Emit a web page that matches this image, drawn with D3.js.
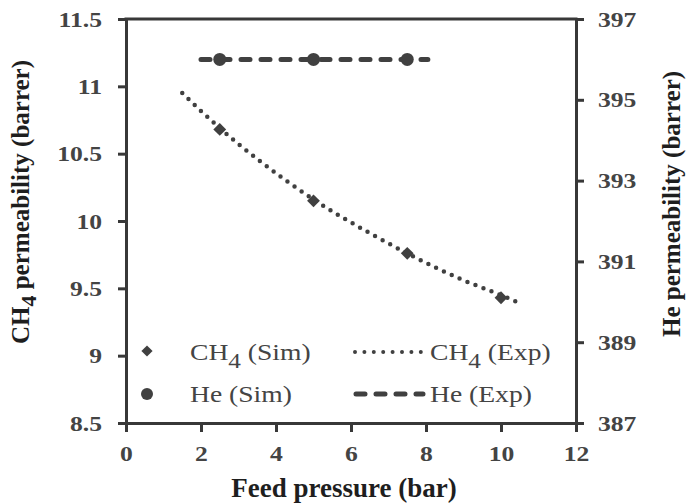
<!DOCTYPE html>
<html>
<head>
<meta charset="utf-8">
<script src="https://cdn.jsdelivr.net/npm/d3@7"></script>
<style>
  html, body { margin: 0; padding: 0; background: #fff; }
  svg { display: block; }
  text { font-family: "Liberation Serif", "Times New Roman", serif; }
</style>
</head>
<body>
<script>
// ---------- data ----------
const xTicks = [0, 2, 4, 6, 8, 10, 12];
const leftTicks = [8.5, 9, 9.5, 10, 10.5, 11, 11.5];
const rightTicks = [387, 389, 391, 393, 395, 397];

const ch4SimX = [2.5, 5, 7.5, 10];
const ch4SimY = [10.68, 10.15, 9.76, 9.43];

const ch4ExpX = [1.5, 2.5, 3.5, 5, 6.5, 7.5, 9, 10, 10.5];
const ch4ExpY = [10.95, 10.69, 10.46, 10.16, 9.91, 9.76, 9.56, 9.45, 9.39];

const heSimX = [2.5, 5, 7.5];
const heSimY = [396, 396, 396];

const heExpX = [2, 4, 6, 8.05];
const heExpY = [396, 396, 396, 396];

// ---------- setup ----------
const W = 686, H = 504;
const svg = d3.select("body").append("svg").attr("width", W).attr("height", H);

const x = d3.scaleLinear().domain([0, 12]).range([126, 576]);
const yL = d3.scaleLinear().domain([8.5, 11.5]).range([423, 19]);
const yR = d3.scaleLinear().domain([387, 397]).range([423, 19]);

const axisCol = "#383838";
const markCol = "#404040";
const labCol = "#444";
const SX = 1.22; // horizontal glyph stretch of the reference

// ---------- axes ----------
const gL = svg.append("g").attr("transform", `translate(${x(0)},0)`)
  .call(d3.axisLeft(yL).tickValues(leftTicks).tickSize(8).tickSizeOuter(0)
        .tickFormat(d => d3.format("")(d)));
const gR = svg.append("g").attr("transform", `translate(${x(12)},0)`)
  .call(d3.axisRight(yR).tickValues(rightTicks).tickSize(8).tickSizeOuter(0));
const gB = svg.append("g").attr("transform", `translate(0,${yL(8.5)})`)
  .call(d3.axisBottom(x).tickValues(xTicks).tickSize(9).tickSizeOuter(0));

[gL, gR, gB].forEach(g => {
  g.attr("font-family", null);
  g.select(".domain").attr("stroke", axisCol).attr("stroke-width", 3);
  g.selectAll(".tick line").attr("stroke", axisCol).attr("stroke-width", 3);
  g.selectAll(".tick text")
    .attr("fill", labCol)
    .attr("font-size", 21)
    .attr("font-weight", "bold");
});
gL.selectAll(".tick text").attr("x", -24 / SX).attr("dy", "0.34em")
  .attr("transform", `scale(${SX},1)`);
gR.selectAll(".tick text").attr("x", 22 / SX).attr("dy", "0.34em")
  .attr("transform", `scale(${SX},1)`);
gB.selectAll(".tick text").attr("y", 0).attr("dy", 0)
  .attr("transform", `translate(0,38) scale(${SX},1)`);

// top frame line
svg.append("line")
  .attr("x1", x(0) - 1.5).attr("x2", x(12) + 1.5)
  .attr("y1", yL(11.5)).attr("y2", yL(11.5))
  .attr("stroke", axisCol).attr("stroke-width", 3);

// ---------- series ----------
const ch4Exp = ch4ExpX.map((v, i) => [v, ch4ExpY[i]]);
svg.append("path")
  .attr("d", d3.line().x(d => x(d[0])).y(d => yL(d[1])).curve(d3.curveMonotoneX)(ch4Exp))
  .attr("fill", "none").attr("stroke", markCol).attr("stroke-width", 4.5)
  .attr("stroke-linecap", "round").attr("stroke-dasharray", "0 8.6");

const heExp = heExpX.map((v, i) => [v, heExpY[i]]);
svg.append("path")
  .attr("d", d3.line().x(d => x(d[0])).y(d => yR(d[1]))(heExp))
  .attr("fill", "none").attr("stroke", markCol).attr("stroke-width", 5)
  .attr("stroke-linecap", "round").attr("stroke-dasharray", "9 11");

const diamond = d3.symbol().type(d3.symbolDiamond2).size(105);
svg.append("g").selectAll("path")
  .data(ch4SimX.map((v, i) => [v, ch4SimY[i]]))
  .join("path")
  .attr("transform", d => `translate(${x(d[0])},${yL(d[1])})`)
  .attr("d", diamond)
  .attr("fill", markCol);

svg.append("g").selectAll("circle")
  .data(heSimX.map((v, i) => [v, heSimY[i]]))
  .join("circle")
  .attr("cx", d => x(d[0])).attr("cy", d => yR(d[1]))
  .attr("r", 6.5).attr("fill", markCol);

// ---------- legend ----------
function legendText(px, py, main, sub, rest) {
  const t = svg.append("text")
    .attr("transform", `translate(${px},${py}) scale(1.2,1)`)
    .attr("font-size", 23).attr("fill", labCol);
  t.append("tspan").text(main);
  if (sub) {
    t.append("tspan").attr("font-size", 21).attr("dy", 8).text(sub);
    t.append("tspan").attr("dy", -8).text(rest);
  }
  return t;
}
svg.append("path").attr("transform", `translate(147,351)`)
  .attr("d", d3.symbol().type(d3.symbolDiamond2).size(80)).attr("fill", markCol);
svg.append("circle").attr("cx", 147).attr("cy", 394).attr("r", 6).attr("fill", markCol);
legendText(190, 360, "CH", "4", " (Sim)");
legendText(190, 402, "He (Sim)");

svg.append("line").attr("x1", 355).attr("x2", 421).attr("y1", 352).attr("y2", 352)
  .attr("stroke", markCol).attr("stroke-width", 4)
  .attr("stroke-linecap", "round").attr("stroke-dasharray", "0 9.4");
svg.append("line").attr("x1", 356).attr("x2", 423).attr("y1", 394).attr("y2", 394)
  .attr("stroke", markCol).attr("stroke-width", 5)
  .attr("stroke-linecap", "round").attr("stroke-dasharray", "9 11");
legendText(430, 360, "CH", "4", " (Exp)");
legendText(430, 402, "He (Exp)");

// ---------- axis titles ----------
svg.append("text")
  .attr("x", 344).attr("y", 497)
  .attr("text-anchor", "middle")
  .attr("font-size", 27).attr("font-weight", "bold").attr("fill", "#1e1e1e")
  .text("Feed pressure (bar)");

const yt = svg.append("text")
  .attr("transform", "translate(29,202) rotate(-90)")
  .attr("text-anchor", "middle")
  .attr("font-size", 25).attr("font-weight", "bold").attr("fill", "#1e1e1e");
yt.append("tspan").text("CH");
yt.append("tspan").attr("font-size", 22).attr("dy", 7).text("4");
yt.append("tspan").attr("dy", -7).text(" permeability (barrer)");

svg.append("text")
  .attr("transform", "translate(680,204) rotate(-90)")
  .attr("text-anchor", "middle")
  .attr("font-size", 25).attr("font-weight", "bold").attr("fill", "#1e1e1e")
  .text("He permeability (barrer)");
</script>
</body>
</html>
